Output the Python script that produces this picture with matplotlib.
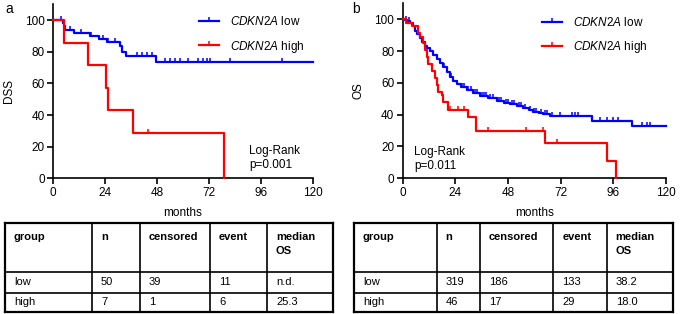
import numpy as np
import matplotlib
matplotlib.use('Agg')
import matplotlib.pyplot as plt
from matplotlib.lines import Line2D

plt.rcParams['font.family'] = ['Liberation Sans', 'DejaVu Sans']
plt.rcParams['mathtext.fontset'] = 'custom'
plt.rcParams['mathtext.rm'] = 'Liberation Sans'
plt.rcParams['mathtext.it'] = 'Liberation Sans:italic'

BLUE = '#0000ff'
RED = '#ff0000'

# ---- panel a: DSS ----
dss_low_t = [0, 4.8, 5.2, 5.6, 9.7, 17, 21, 24.8, 31, 32, 33.7, 47.5]
dss_low_s = [100, 98, 96, 94, 92, 90, 88, 86, 83.8, 79.6, 77.5, 73.3]
dss_low_end = 120
dss_low_cens = [3.7, 7.8, 12.9, 17.5, 23.2, 25.5, 28.6, 38.6, 41.3, 43.5, 45.8,
                51.7, 54, 56.3, 58.6, 62.3, 67, 69, 71, 72.5, 81.7, 105.7]

dss_high_t = [0, 5, 16, 24.5, 25.5, 37, 79]
dss_high_s = [100, 85.7, 71.4, 57.1, 42.9, 28.6, 0]
dss_high_end = 79
dss_high_cens = [43.7]

# ---- panel b: OS ----
os_low_t = [0, 1, 2, 3.3, 4.5, 5.6, 6.5, 7.9, 9, 10.2, 11.3, 12.5, 14, 15.5, 17,
            18.5, 20, 21.6, 23, 24.6, 26.5, 29.2, 32, 35.3, 39, 42.9, 46, 49, 52,
            55, 57.5, 59.6, 62, 64.2, 67.2, 86.5, 104.8]
os_low_s = [100, 99.4, 98.7, 97.8, 95.5, 92.7, 90.6, 88.5, 85.8, 83.3, 81.7, 80.2,
            77.6, 75, 72.3, 69.8, 66.7, 63.5, 61.3, 59.4, 57.3, 55.2, 53.5, 52,
            50.4, 48.9, 47.6, 46.6, 45.5, 44, 42.8, 41.6, 40.8, 40.2, 39.2, 36.2, 33]
os_low_end = 120
os_low_cens = [1.5, 3, 19, 22, 25, 27, 28, 30, 31, 33, 34, 36, 37, 38, 40, 41,
               43, 44, 45, 47, 48, 50, 51, 53, 54, 56, 58, 60, 61, 63, 65, 66,
               68, 71.6, 77.1, 78.6, 80.1, 90, 93.1, 96.1, 98.4, 109, 111.3, 112.8]

os_high_t = [0, 1.5, 4.1, 6.8, 8.0, 9.4, 10.2, 10.9, 11.7, 13.2, 14.7, 15.5, 16.3,
             17.8, 18.5, 20.8, 29.9, 33.4, 64.9, 93.1, 97.3]
os_high_s = [100, 97.8, 95.7, 91.3, 89.1, 84.8, 80.4, 76.1, 71.7, 67.4, 63.0, 58.7,
             54.3, 52.1, 47.8, 42.7, 38.5, 29.8, 22.3, 11.1, 0]
os_high_end = 97.3
os_high_cens = [21.6, 25.4, 28, 39, 56.1, 64.2, 70.3]

# ---- tables ----
table_header = ['group', 'n', 'censored', 'event', 'median\nOS']
dss_table = [['low', '50', '39', '11', 'n.d.'],
             ['high', '7', '1', '6', '25.3']]
os_table = [['low', '319', '186', '133', '38.2'],
            ['high', '46', '17', '29', '18.0']]


def km(ax, t, s, end, cens, color):
    t = list(t) + [end]
    s = list(s) + [s[-1]]
    ax.step(t, s, where='post', color=color, lw=1.6, clip_on=False, zorder=3)
    idx = np.searchsorted(t, cens, side='right') - 1
    ax.plot(cens, np.array(s)[idx], ls='none', marker=2, ms=3, mew=1.1,
            color=color, clip_on=False, zorder=3)


def style(ax, ylabel):
    ax.set_xlim(0, 120)
    ax.set_ylim(0, 110)
    ax.set_xticks(range(0, 121, 24))
    ax.set_yticks(range(0, 101, 20))
    for sp in ['top', 'right']:
        ax.spines[sp].set_visible(False)
    for sp in ['left', 'bottom']:
        ax.spines[sp].set_linewidth(1.2)
    ax.tick_params(direction='out', length=4, width=1.2, labelsize=8.5, pad=2)
    ax.set_xlabel('months', fontsize=8.5, labelpad=6)
    ax.set_ylabel(ylabel, fontsize=8.5, labelpad=7)
    handles = [Line2D([], [], color=BLUE, lw=1.6, marker=2, ms=3, mew=1.1),
               Line2D([], [], color=RED, lw=1.6, marker=2, ms=3, mew=1.1)]
    labels = [r'$\mathit{CDKN2A}$ low', r'$\mathit{CDKN2A}$ high']
    return handles, labels


W, H = 685, 314
fig = plt.figure(figsize=(W / 100, H / 100), dpi=100)

axa = fig.add_axes([53 / W, 1 - 178.3 / H, 260 / W, 174 / H])
km(axa, dss_low_t, dss_low_s, dss_low_end, dss_low_cens, BLUE)
km(axa, dss_high_t, dss_high_s, dss_high_end, dss_high_cens, RED)
h, l = style(axa, 'DSS')
axa.legend(h, l, loc='upper left', bbox_to_anchor=(0.52, 1.0), frameon=False,
           fontsize=8.5, handlelength=1.7, handletextpad=0.9, labelspacing=0.9,
           numpoints=1)
axa.text(0.754, 0.116, 'Log-Rank\np=0.001', transform=axa.transAxes,
         fontsize=8.5, va='center', ha='left')

axb = fig.add_axes([402.7 / W, 1 - 178.3 / H, 263 / W, 175 / H])
km(axb, os_low_t, os_low_s, os_low_end, os_low_cens, BLUE)
km(axb, os_high_t, os_high_s, os_high_end, os_high_cens, RED)
h, l = style(axb, 'OS')
axb.legend(h, l, loc='upper left', bbox_to_anchor=(0.49, 0.99), frameon=False,
           fontsize=8.5, handlelength=1.7, handletextpad=0.9, labelspacing=0.9,
           numpoints=1)
axb.text(0.043, 0.112, 'Log-Rank\np=0.011', transform=axb.transAxes,
         fontsize=8.5, va='center', ha='left')

fig.text(5 / W, 1 - 9 / H, 'a', fontsize=10, va='center', ha='left')
fig.text(352 / W, 1 - 9 / H, 'b', fontsize=10, va='center', ha='left')

# overlay axes in pixel units for the tables
tax = fig.add_axes([0, 0, 1, 1])
tax.set_xlim(0, W)
tax.set_ylim(H, 0)
tax.axis('off')

row_edges = [223.3, 271.7, 292.7, 311.7]


def draw_table(col_edges, rows):
    x0, x1 = col_edges[0], col_edges[-1]
    for y in row_edges:
        lw = 1.6 if y in (row_edges[0], row_edges[-1]) else 1.2
        tax.plot([x0, x1], [y, y], color='black', lw=lw, solid_capstyle='projecting')
    for x in col_edges:
        lw = 1.6 if x in (x0, x1) else 1.2
        tax.plot([x, x], [row_edges[0], row_edges[-1]], color='black', lw=lw,
                 solid_capstyle='projecting')
    for j, txt in enumerate(table_header):
        tax.text(col_edges[j] + 9, row_edges[0] + 9, txt, fontsize=8,
                 fontweight='bold', va='top', ha='left', linespacing=1.4)
    for i, row in enumerate(rows):
        yc = (row_edges[i + 1] + row_edges[i + 2]) / 2
        for j, txt in enumerate(row):
            tax.text(col_edges[j] + 9, yc, txt, fontsize=8, va='center', ha='left')


draw_table([5, 92, 140, 210, 267, 333], dss_table)
draw_table([354, 436.7, 480, 553.3, 606.7, 673.3], os_table)

fig.savefig('out.png', dpi=100)
